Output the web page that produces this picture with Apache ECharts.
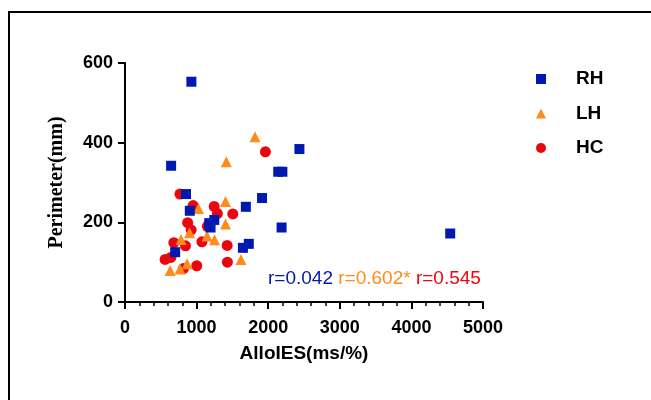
<!DOCTYPE html>
<html>
<head>
<meta charset="utf-8">
<script src="https://cdn.jsdelivr.net/npm/echarts@6/dist/echarts.min.js"></script>
<style>html,body{margin:0;padding:0;background:#fff}#c{width:651px;height:400px}</style>
</head>
<body>
<div id="c"></div>
<script>
var seriesNames = ['RH', 'LH', 'HC'];
var rhData = [[927,553],[644,342],[852,271],[905,229],[1177,198],[1195,187],[1247,206],[1180,193],[701,125],[1688,239],[1914,261],[2140,327],[2198,327],[2436,384],[2187,187],[1647,136],[1729,146],[4542,172]];
var lhData = [[1816,415],[1415,352],[1404,252],[1027,235],[1404,196],[902,174],[782,157],[1146,166],[1250,156],[1619,107],[867,96],[630,79],[768,83]];
var hcData = [[1961,377],[767,271],[952,242],[1245,240],[1290,222],[1506,221],[875,199],[924,181],[1150,190],[682,149],[845,141],[1074,151],[1427,142],[560,107],[640,112],[1430,100],[1002,91],[815,84]];
var rLabels = ['r=0.042', 'r=0.602*', 'r=0.545'];
var xTicks = [0, 5000, 1000];
var yTicks = [0, 600, 200];

var colors = {RH: '#0019b0', LH: '#ff8c1a', HC: '#e8070e'};
var sans = 'Liberation Sans, Arial, sans-serif';

var chart = echarts.init(document.getElementById('c'), null, {renderer: 'canvas'});
chart.setOption({
  animation: false,
  backgroundColor: '#fff',
  grid: {left: 125, right: 168, top: 63, bottom: 98, containLabel: false},
  xAxis: {
    type: 'value', min: xTicks[0], max: xTicks[1], interval: xTicks[2],
    name: 'AlloIES(ms/%)', nameLocation: 'middle', nameGap: 42,
    nameTextStyle: {fontFamily: sans, fontWeight: 'bold', fontSize: 19, color: '#000'},
    axisLine: {show: true, lineStyle: {color: '#000', width: 2}},
    axisTick: {show: true, length: 7, lineStyle: {color: '#000', width: 2}},
    minorTick: {show: true, splitNumber: 5, length: 4, lineStyle: {color: '#000', width: 1.5}},
    axisLabel: {fontFamily: sans, fontWeight: 'bold', fontSize: 18, color: '#000', margin: 17,
      formatter: function (v) { return String(v); }},
    splitLine: {show: false}
  },
  yAxis: {
    type: 'value', min: yTicks[0], max: yTicks[1], interval: yTicks[2],
    name: 'Perimeter(mm)', nameLocation: 'middle', nameGap: 58, nameRotate: 90,
    nameTextStyle: {fontFamily: 'Liberation Serif, Times New Roman, serif', fontWeight: 'bold', fontSize: 20, color: '#000'},
    axisLine: {show: true, lineStyle: {color: '#000', width: 2}},
    axisTick: {show: true, length: 7, lineStyle: {color: '#000', width: 2}},
    axisLabel: {fontFamily: sans, fontWeight: 'bold', fontSize: 18, color: '#000', margin: 12,
      formatter: function (v) { return String(v); }},
    splitLine: {show: false}
  },
  legend: {
    orient: 'vertical', left: 531, top: 64, itemGap: 14.5,
    itemWidth: 10, itemHeight: 10,
    data: [
      {name: 'RH', icon: 'rect'},
      {name: 'LH', icon: 'triangle'},
      {name: 'HC', icon: 'circle'}
    ],
    textStyle: {fontFamily: sans, fontWeight: 'bold', fontSize: 19, color: '#000', lineHeight: 20, padding: [0, 0, 0, 25]}
  },
  graphic: [
    {type: 'rect', shape: {x: 9, y: 12, width: 700, height: 420}, style: {fill: null, stroke: '#000', lineWidth: 2}, silent: true},
    {type: 'text', left: 268, top: 269, style: {
      text: '{b|' + rLabels[0] + '} {o|' + rLabels[1] + '} {r|' + rLabels[2] + '}',
      rich: {
        b: {fill: colors.RH, fontFamily: sans, fontSize: 19},
        o: {fill: colors.LH, fontFamily: sans, fontSize: 19},
        r: {fill: colors.HC, fontFamily: sans, fontSize: 19}
      },
      fontFamily: sans, fontSize: 19
    }}
  ],
  series: [
    {name: 'HC', type: 'scatter', symbol: 'circle', symbolSize: 11, data: hcData, itemStyle: {color: colors.HC, opacity: 1}},
    {name: 'LH', type: 'scatter', symbol: 'triangle', symbolSize: 11, data: lhData, itemStyle: {color: colors.LH, opacity: 1}},
    {name: 'RH', type: 'scatter', symbol: 'rect', symbolSize: 10, data: rhData, itemStyle: {color: colors.RH, opacity: 1}}
  ]
});
</script>
</body>
</html>
